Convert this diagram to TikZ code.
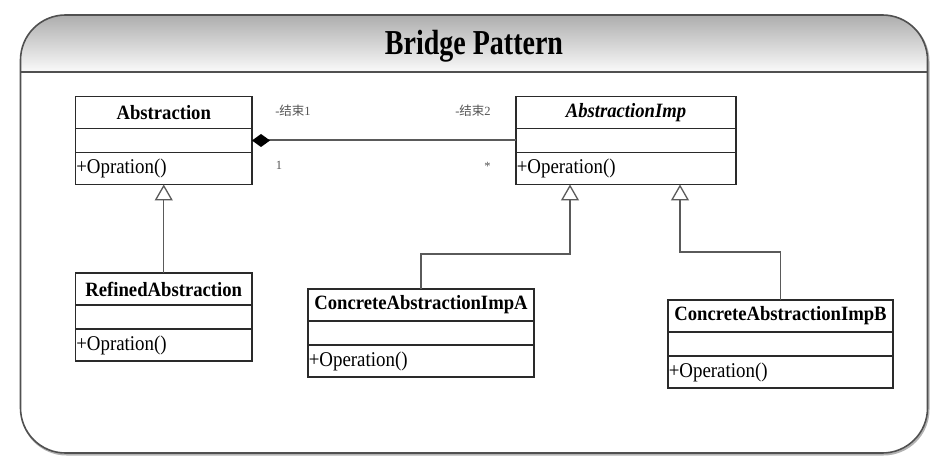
\documentclass[tikz,border=0pt]{standalone}
\usepackage{fontspec}
\setmainfont{Liberation Serif}
\newfontfamily\cjk{Noto Sans CJK SC}
\usetikzlibrary{arrows.meta,calc}
\definecolor{framec}{HTML}{505050}
\definecolor{linec}{HTML}{5A5A5A}
\definecolor{boxc}{HTML}{2A2A2A}
\definecolor{lblc}{HTML}{555555}
\newcommand{\myhead}[1]{\scalebox{0.92}[1]{\fontsize{20.3}{22}\selectfont\bfseries #1}}
\newcommand{\myop}[1]{\scalebox{0.9}[1]{\fontsize{21}{23}\selectfont #1}}
\tikzset{
  rowbase/.style={draw=boxc, line width=1.2pt, fill=white, anchor=north west, inner sep=0pt, outer sep=0pt},
  hdr/.style={rowbase, minimum height=32pt},
  midrow/.style={rowbase, minimum height=24pt},
  oprow/.style={rowbase, minimum height=32pt},
  inh/.style={draw=linec, line width=1.3pt, -{Triangle[open, length=16pt, width=18pt, fill=white]}},
  comp/.style={draw=linec, line width=2pt, {Diamond[length=18pt, width=13pt, fill=black, color=black]}-},
  lbl/.style={text=lblc, inner sep=0pt, anchor=base, font=\fontsize{12.5}{13}\selectfont},
}
% name, x, y, width, title, op
\newcommand{\umlclass}[6]{%
  \node[hdr, minimum width=#4pt] (#1) at (#2,#3) {\myhead{#5}};
  \node[midrow, minimum width=#4pt] (#1-m) at (#1.south west) {};
  \node[oprow, minimum width=#4pt] (#1-o) at (#1-m.south west) {\makebox[#4pt][l]{\hspace{0.8pt}\myop{#6}}};
}
\begin{document}
\begin{tikzpicture}[x=1pt,y=-1pt]
\useasboundingbox (0,0) rectangle (946,468);
% frame shadow
\draw[gray!60, line width=2pt, rounded corners=45pt] (21.5,16.5) rectangle (928.5,454.5);
\begin{scope}
  \clip[rounded corners=45pt] (20.5,15) rectangle (927.5,453);
  \fill[white] (20.5,15) rectangle (927.5,453);
  \shade[top color=black!32, bottom color=black!2] (20.5,15) rectangle (927.5,72);
\end{scope}
\draw[framec, line width=1.6pt, rounded corners=45pt] (20.5,15) rectangle (927.5,453);
\draw[framec, line width=1.6pt] (20.5,72) -- (927.5,72);
\node[anchor=base, inner sep=0pt] (title) at (474,55) {\scalebox{0.8}[1]{\fontsize{35}{40}\selectfont\bfseries Bridge Pattern}};

% classes
\umlclass{abs}{75.5}{96.5}{176.5}{Abstraction}{+Opration()}
\umlclass{imp}{516}{96.5}{220}{\itshape AbstractionImp}{+Operation()}
\umlclass{ref}{75.5}{273}{176.5}{RefinedAbstraction}{+Opration()}
\umlclass{ca}{308}{289}{226}{ConcreteAbstractionImpA}{+Operation()}
\umlclass{cb}{668}{300}{225}{ConcreteAbstractionImpB}{+Operation()}

% association
\draw[comp] (abs-m.east) -- (imp-m.west);
\node[lbl] (e1) at (293,116) {-{\cjk 结束}1};
\node[lbl] (e2) at (473,116) {-{\cjk 结束}2};
\node[lbl] (m1) at (279,170) {1};
\node[lbl] (m2) at (487.5,171) {*};

% inheritance
\coordinate (ia) at ([xshift=-56pt]imp-o.south);
\coordinate (ib) at ([xshift=54pt]imp-o.south);
\draw[inh] (ref.north) -- (abs-o.south);
\draw[inh] (ca.north) -- ++(0,-35) -| (ia);
\draw[inh] (cb.north) -- ++(0,-48) -| (ib);
\end{tikzpicture}
\end{document}
